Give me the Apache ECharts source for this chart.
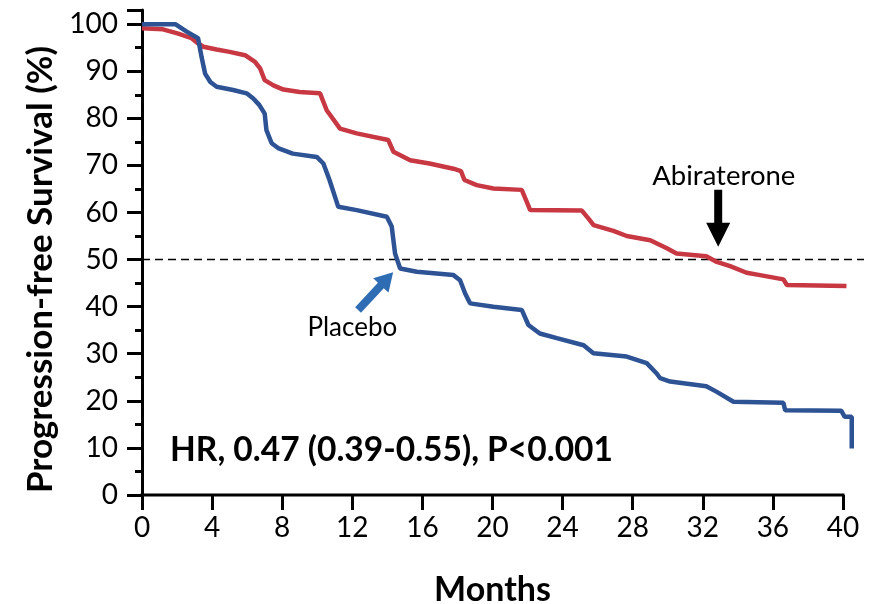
<!DOCTYPE html>
<html>
<head>
<meta charset="utf-8">
<script src="https://cdn.jsdelivr.net/npm/echarts@6/dist/echarts.min.js"></script>
<style>
  html, body { margin: 0; padding: 0; background: #fff; }
  #chart { width: 869px; height: 604px; }
</style>
</head>
<body>
<div id="chart"></div>
<script>
// Kaplan-Meier curves (months, % progression-free)
const placeboMonths = [0, 1.9, 2.55, 3.2, 3.4, 3.6, 3.9, 4.26, 5.2, 5.97, 6.35, 6.7, 7.0, 7.1, 7.4, 7.8, 8.6, 9.97, 10.35, 10.7, 11.2, 12.25, 13.97, 14.25, 14.44, 14.73, 15.68, 17.77, 18.15, 18.44, 18.72, 20.05, 21.67, 22.05, 22.7, 23.67, 25.2, 25.76, 27.66, 28.8, 29.37, 29.57, 30.14, 32.2, 32.8, 33.75, 36.6, 36.7, 39.9, 40.1, 40.5, 40.5];
const placeboPfs = [100, 100, 98.4, 97, 93, 89.5, 87.7, 86.7, 86, 85.3, 84.2, 82.8, 81, 77.5, 74.7, 73.6, 72.5, 71.8, 70.4, 66.9, 61.2, 60.5, 59.1, 57, 51.3, 48.1, 47.4, 46.7, 45.6, 42.8, 40.7, 40.0, 39.3, 36.1, 34.3, 33.3, 31.8, 30.1, 29.4, 28.0, 25.8, 24.8, 24.1, 23.1, 21.9, 19.8, 19.6, 18.0, 17.9, 16.6, 16.6, 9.9];

const abiMonths = [0, 1.2, 2.07, 2.83, 3.2, 3.5, 4.26, 5.0, 5.88, 6.45, 6.74, 7.0, 7.5, 8.07, 9.0, 10.16, 10.54, 11.3, 12.25, 14.05, 14.35, 15.3, 16.4, 17.77, 18.2, 18.4, 19.1, 20.05, 21.67, 21.95, 22.15, 25.1, 25.48, 25.77, 26.9, 27.66, 29.0, 29.95, 30.5, 32.2, 32.8, 33.56, 34.5, 35.27, 36.6, 36.8, 40.2];
const abiPfs = [99.1, 98.9, 98, 97, 95.9, 95.2, 94.6, 94.1, 93.4, 92, 90.6, 88.1, 87, 86.1, 85.6, 85.3, 81.7, 77.8, 76.8, 75.4, 72.9, 71.1, 70.4, 69.3, 68.8, 66.9, 65.8, 65.1, 64.8, 62.3, 60.5, 60.4, 58.7, 57.3, 56.1, 55, 54.1, 52.4, 51.3, 50.7, 49.5, 48.6, 47.2, 46.7, 45.8, 44.6, 44.4];

const monthTicks = [0, 4, 8, 12, 16, 20, 24, 28, 32, 36, 40];
const xAxisLine = [[0, 0], [40, 0]];      // drawn axis stops at 40, curves run a bit past it
const medianLine = [[0, 50], [41.2, 50]];
const hrText = 'HR, 0.47 (0.39-0.55), P<0.001';

const zip = (xs, ys) => xs.map((x, i) => [x, ys[i]]);

const chart = echarts.init(document.getElementById('chart'));

chart.setOption({
  animation: false,
  grid: { left: 142, right: 5, top: 10, bottom: 109, outerBoundsMode: 'none', containLabel: false },
  xAxis: {
    type: 'value',
    min: 0,
    max: 41.2,
    interval: 4,
    name: 'Months',
    nameLocation: 'middle',
    nameGap: 78,
    nameTextStyle: {
      fontFamily: 'Lato', fontWeight: 'bold', fontSize: 34, color: '#000',
      padding: [0, 21, 0, 0]
    },
    axisLine: { show: false },
    axisTick: { show: true, length: 15, customValues: monthTicks, lineStyle: { color: '#000', width: 3 } },
    axisLabel: { margin: 19, customValues: monthTicks, fontFamily: 'Lato', fontSize: 28, color: '#000' },
    splitLine: { show: false }
  },
  yAxis: {
    type: 'value',
    min: 0,
    max: 103,
    interval: 10,
    name: 'Progression-free Survival (%)',
    nameLocation: 'middle',
    nameGap: 82,
    nameRotate: 90,
    nameTextStyle: { fontFamily: 'Lato', fontWeight: 'bold', fontSize: 35, color: '#000', padding: [0, 34, 0, 0] },
    axisLine: { show: true, lineStyle: { color: '#000', width: 3 } },
    axisTick: { show: true, length: 15, lineStyle: { color: '#000', width: 3 } },
    minorTick: { show: true, splitNumber: 2, length: 7, lineStyle: { color: '#000', width: 3 } },
    axisLabel: { margin: 24, fontFamily: 'Lato', fontSize: 28, color: '#000' },
    splitLine: { show: false }
  },
  series: [
    {
      name: 'x axis',
      type: 'line',
      data: xAxisLine,
      symbol: 'none',
      silent: true,
      clip: false,
      lineStyle: { color: '#000', width: 3, cap: 'square' },
      z: 1
    },
    {
      name: '50%',
      type: 'line',
      data: medianLine,
      symbol: 'none',
      silent: true,
      lineStyle: { color: '#000', width: 1.6, type: [8, 5] },
      z: 1
    },
    {
      name: 'Placebo',
      type: 'line',
      data: zip(placeboMonths, placeboPfs),
      symbol: 'none',
      lineStyle: { color: '#2D5395', width: 4.5 },
      z: 3
    },
    {
      name: 'Abiraterone',
      type: 'line',
      data: zip(abiMonths, abiPfs),
      symbol: 'none',
      lineStyle: { color: '#C83843', width: 4.5 },
      z: 2
    }
  ]
});

// annotations are placed in data coordinates
function px(pt) {
  return chart.convertToPixel({ xAxisIndex: 0, yAxisIndex: 0 }, pt);
}

function arrowShape(tail, tip, shaftW, headW, headL) {
  const dx = tip[0] - tail[0], dy = tip[1] - tail[1];
  const len = Math.sqrt(dx * dx + dy * dy);
  const ux = dx / len, uy = dy / len;
  const nx = -uy, ny = ux;
  const bx = tip[0] - ux * headL, by = tip[1] - uy * headL;
  return [
    [tail[0] + nx * shaftW / 2, tail[1] + ny * shaftW / 2],
    [bx + nx * shaftW / 2, by + ny * shaftW / 2],
    [bx + nx * headW / 2, by + ny * headW / 2],
    tip,
    [bx - nx * headW / 2, by - ny * headW / 2],
    [bx - nx * shaftW / 2, by - ny * shaftW / 2],
    [tail[0] - nx * shaftW / 2, tail[1] - ny * shaftW / 2]
  ];
}

const abiLabelAt = px([33.2, 67.7]);
const placeboLabelAt = px([12.0, 35.5]);
const hrAt = px([1.6, 9.55]);

chart.setOption({
  graphic: [
    {
      type: 'polygon',
      shape: { points: arrowShape(px([32.88, 64.8]), px([32.88, 52.7]), 8, 24, 24) },
      style: { fill: '#000' }
    },
    {
      type: 'polygon',
      shape: { points: arrowShape(px([12.33, 39.3]), px([14.33, 47.3]), 8, 21, 18) },
      style: { fill: '#2E6DB4' }
    },
    {
      type: 'text',
      x: abiLabelAt[0], y: abiLabelAt[1],
      style: { text: 'Abiraterone', font: '27.5px Lato', fill: '#000', align: 'center', verticalAlign: 'middle' }
    },
    {
      type: 'text',
      x: placeboLabelAt[0], y: placeboLabelAt[1],
      style: { text: 'Placebo', font: '26px Lato', fill: '#000', align: 'center', verticalAlign: 'middle' }
    },
    {
      type: 'text',
      x: hrAt[0], y: hrAt[1],
      style: { text: hrText, font: 'bold 33.5px Lato', fill: '#000', align: 'left', verticalAlign: 'middle' }
    }
  ]
});

window.addEventListener('resize', () => chart.resize());
</script>
</body>
</html>
